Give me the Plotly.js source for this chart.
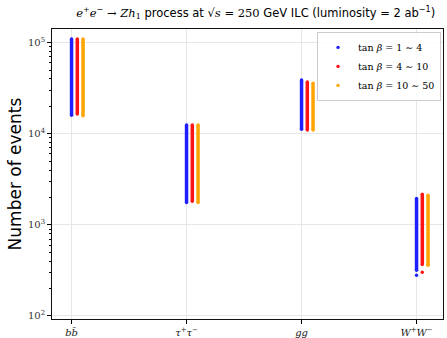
<!DOCTYPE html>
<html>
<head>
<meta charset="utf-8">
<script src="https://cdn.plot.ly/plotly-3.0.1.min.js"></script>
<style>
  html, body { margin: 0; padding: 0; background: #fff; }
  #chart { width: 447px; height: 338px; }
</style>
</head>
<body>
<div id="chart"></div>
<script>
// Decay channels of the Higgs-like state h1
const channels = ['<i>b</i><i>b̄</i>', '<i>τ</i><sup>+</sup><i>τ</i><sup>−</sup>', '<i>gg</i>', '<i>W</i><sup>+</sup><i>W</i><sup>−</sup>'];

// Event-count ranges (min, max) per channel for each tan(beta) window
const tb1to4Min   = [16000, 1760, 11200, 318];
const tb1to4Max   = [110000, 12500, 39000, 1950];
const tb4to10Min  = [16500, 1820, 11000, 367];
const tb4to10Max  = [110000, 12500, 37000, 2170];
const tb10to50Min = [15800, 1760, 11000, 360];
const tb10to50Max = [110000, 12500, 35800, 2120];

// Isolated points below the WW band
const tb1to4ExtraY  = [280];
const tb4to10ExtraY = [302];
const extraCh = [3];

const series = [
  {name: 'tan <i>β</i> = 1 ∼ 4',   color: '#1f1fff', shift: 0,    lo: tb1to4Min,   hi: tb1to4Max,   extra: tb1to4ExtraY},
  {name: 'tan <i>β</i> = 4 ∼ 10',  color: '#ff1414', shift: 0.05, lo: tb4to10Min,  hi: tb4to10Max,  extra: tb4to10ExtraY},
  {name: 'tan <i>β</i> = 10 ∼ 50', color: '#ffa500', shift: 0.1,  lo: tb10to50Min, hi: tb10to50Max, extra: []}
];

const traces = [];
series.forEach(s => {
  // vertical bands built from min/max, separated by gaps
  const lx = [], ly = [];
  s.lo.forEach((v, i) => {
    lx.push(i + s.shift, i + s.shift, null);
    ly.push(v, s.hi[i], null);
  });
  traces.push({
    x: lx, y: ly, type: 'scatter', mode: 'lines', connectgaps: false,
    line: {color: s.color, width: 3.5}, showlegend: false, hoverinfo: 'skip'
  });
  // band end caps plus isolated points; this trace carries the legend dot
  const mx = [], my = [];
  s.lo.forEach((v, i) => { mx.push(i + s.shift, i + s.shift); my.push(v, s.hi[i]); });
  s.extra.forEach((v, k) => { mx.push(extraCh[k] + s.shift); my.push(v); });
  traces.push({
    x: mx, y: my, type: 'scatter', mode: 'markers', name: s.name,
    marker: {color: s.color, size: 3.4, line: {width: 0}}
  });
});

const serif = '"DejaVu Serif", "Liberation Serif", serif';
const sans = '"DejaVu Sans", "Liberation Sans", Arial, sans-serif';

const layout = {
  width: 447, height: 338,
  margin: {l: 52, r: 4, t: 29, b: 19},
  paper_bgcolor: '#fff', plot_bgcolor: '#fff',
  title: {
    text: '<span style="font-family:' + "'DejaVu Serif'" + '"><i>e</i><sup>+</sup><i>e</i><sup>−</sup> → <i>Zh</i><sub>1</sub></span> process at <span style="font-family:' + "'DejaVu Serif'" + '">√<i>s</i> = 250</span> GeV ILC (luminosity = 2 ab<sup>−1</sup>)',
    font: {family: sans, size: 11.5, color: '#000'},
    x: 0.572, xanchor: 'center', y: 0.962, yanchor: 'middle'
  },
  xaxis: {
    range: [-0.17, 3.23],
    tickvals: [0, 1, 2, 3], ticktext: channels,
    tickfont: {family: serif, size: 10, color: '#222'},
    ticks: 'outside', ticklen: 3.5, tickwidth: 1, tickcolor: '#000',
    showgrid: true, gridcolor: '#e6e6e6', gridwidth: 1,
    showline: true, linecolor: '#111', linewidth: 1.4, mirror: true,
    zeroline: false, fixedrange: true
  },
  yaxis: {
    type: 'log', range: [1.967, 5.15],
    tickvals: [100, 1000, 10000, 100000],
    ticktext: ['10<sup>2</sup>', '10<sup>3</sup>', '10<sup>4</sup>', '10<sup>5</sup>'],
    tickfont: {family: serif, size: 10, color: '#333'},
    ticks: 'outside', ticklen: 3.5, tickwidth: 1, tickcolor: '#000',
    minor: {tickvals: [200,300,400,500,600,700,800,900,2000,3000,4000,5000,6000,7000,8000,9000,20000,30000,40000,50000,60000,70000,80000,90000,200000,300000], ticks: 'outside', ticklen: 2, tickcolor: '#000', showgrid: false},
    showgrid: true, gridcolor: '#e6e6e6', gridwidth: 1,
    showline: true, linecolor: '#111', linewidth: 1.4, mirror: true,
    zeroline: false, fixedrange: true,
    title: {text: 'Number of events', font: {family: sans, size: 17, color: '#000'}, standoff: 2}
  },
  legend: {
    x: 0.995, xanchor: 'right', y: 0.99, yanchor: 'top',
    bgcolor: 'rgba(255,255,255,0.85)', bordercolor: '#cccccc', borderwidth: 1,
    font: {family: serif, size: 9.5, color: '#000'},
    tracegroupgap: 0, itemwidth: 30
  },
  showlegend: true
};

Plotly.newPlot('chart', traces, layout, {displayModeBar: false, staticPlot: true});
</script>
</body>
</html>
